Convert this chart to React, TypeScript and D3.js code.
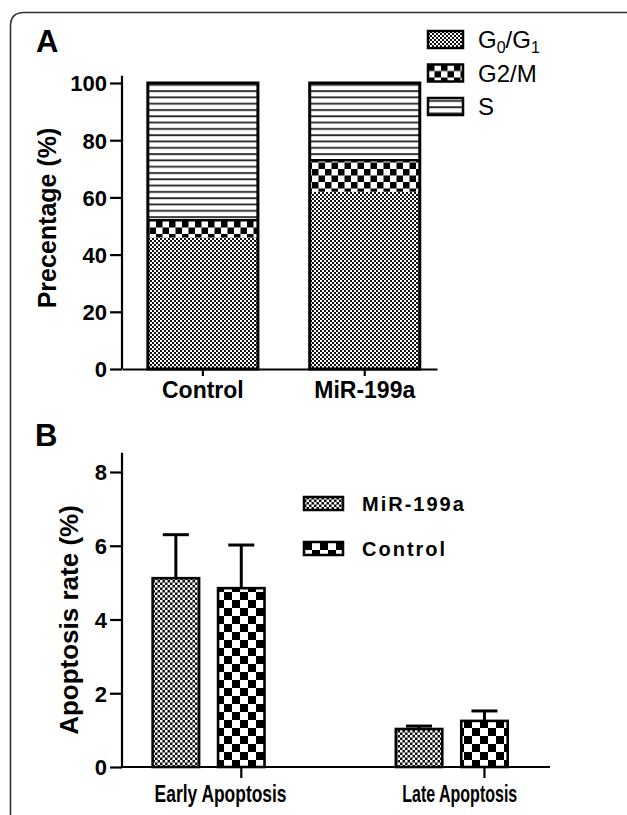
import React, { useEffect, useRef } from 'react';
import * as d3 from 'd3';

// panel A - cell cycle distribution (%)
const cycleGroups = ['Control', 'MiR-199a'];
const phaseNames = ['G0/G1', 'G2/M', 'S'];
const g0g1 = [46, 62];
const g2m = [6, 11];
const sPhase = [48, 27];
const cycleTicks = [0, 20, 40, 60, 80, 100];

// panel B - apoptosis rate (%)
const apoTypes = ['Early Apoptosis', 'Late Apoptosis'];
const apoSeries = ['MiR-199a', 'Control'];
const apoMir = [5.12, 1.03];
const apoMirErr = [1.18, 0.08];
const apoCtrl = [4.85, 1.25];
const apoCtrlErr = [1.17, 0.27];
const apoTicks = [0, 2, 4, 6, 8];

const FONT = '"Liberation Sans", Arial, sans-serif';
const NARROW = '"Liberation Sans Narrow", "Arial Narrow", "Liberation Sans", sans-serif';

export default function App() {
    const ref = useRef<SVGSVGElement>(null);

    useEffect(() => {
        const svg = d3.select(ref.current);
        svg.selectAll('*').remove();

        //patterns
        const defs = svg.append('defs');
        const fine = defs.append('pattern').attr('id', 'fine').attr('patternUnits', 'userSpaceOnUse')
            .attr('width', 4).attr('height', 4);
        fine.append('rect').attr('width', 4).attr('height', 4).attr('fill', '#111');
        fine.append('rect').attr('width', 2).attr('height', 2).attr('fill', '#fff');
        fine.append('rect').attr('x', 2).attr('y', 2).attr('width', 2).attr('height', 2).attr('fill', '#fff');

        const fineB = defs.append('pattern').attr('id', 'fineB').attr('patternUnits', 'userSpaceOnUse')
            .attr('width', 5).attr('height', 5);
        fineB.append('rect').attr('width', 5).attr('height', 5).attr('fill', '#111');
        fineB.append('rect').attr('width', 2.5).attr('height', 2.5).attr('fill', '#fff');
        fineB.append('rect').attr('x', 2.5).attr('y', 2.5).attr('width', 2.5).attr('height', 2.5).attr('fill', '#fff');

        const checker = (id, s) => {
            const p = defs.append('pattern').attr('id', id).attr('patternUnits', 'userSpaceOnUse')
                .attr('width', s * 2).attr('height', s * 2);
            p.append('rect').attr('width', s * 2).attr('height', s * 2).attr('fill', '#fff');
            p.append('rect').attr('width', s).attr('height', s).attr('fill', '#000');
            p.append('rect').attr('x', s).attr('y', s).attr('width', s).attr('height', s).attr('fill', '#000');
        };
        checker('checkA', 6.5);
        checker('checkB', 8);

        const lines = defs.append('pattern').attr('id', 'lines').attr('patternUnits', 'userSpaceOnUse')
            .attr('width', 8).attr('height', 6.3);
        lines.append('rect').attr('width', 8).attr('height', 6.3).attr('fill', '#fff');
        lines.append('rect').attr('y', 2).attr('width', 8).attr('height', 1.8).attr('fill', '#222');

        const fills = { 'G0/G1': 'url(#fine)', 'G2/M': 'url(#checkA)', 'S': 'url(#lines)' };

        //frame
        svg.append('path')
            .attr('d', 'M10.5,815 L10.5,26 Q10.5,12.5 24,12.5 L627,12.5')
            .attr('fill', 'none').attr('stroke', '#333').attr('stroke-width', 1.6);

        //******** PANEL A ********/
        const gA = svg.append('g');
        gA.append('text').attr('x', 36).attr('y', 52).text('A')
            .attr('font-family', FONT).attr('font-weight', 'bold').attr('font-size', 31);

        const yA = d3.scaleLinear().domain([0, 100]).range([369, 83]);
        const xA = d3.scaleBand().domain(cycleGroups).range([122, 437])
            .paddingInner(0.32).paddingOuter(0.133).align(0.6);

        const stacked = d3.stack().keys(phaseNames)(cycleGroups.map((c, i) => ({
            group: c, 'G0/G1': g0g1[i], 'G2/M': g2m[i], 'S': sPhase[i]
        })));

        stacked.forEach(layer => {
            gA.append('g').selectAll('rect').data(layer).enter().append('rect')
                .attr('x', d => xA(d.data.group))
                .attr('y', d => yA(d[1]))
                .attr('width', xA.bandwidth())
                .attr('height', d => yA(d[0]) - yA(d[1]))
                .attr('fill', fills[layer.key]);
        });
        // outline for whole bar + separation line above G2/M
        gA.append('g').selectAll('rect').data(cycleGroups).enter().append('rect')
            .attr('x', d => xA(d))
            .attr('y', yA(100))
            .attr('width', xA.bandwidth())
            .attr('height', yA(0) - yA(100))
            .attr('fill', 'none').attr('stroke', '#000').attr('stroke-width', 3);
        gA.append('g').selectAll('line').data(cycleGroups).enter().append('line')
            .attr('x1', d => xA(d)).attr('x2', d => xA(d) + xA.bandwidth())
            .attr('y1', (d, i) => yA(g0g1[i] + g2m[i])).attr('y2', (d, i) => yA(g0g1[i] + g2m[i]))
            .attr('stroke', '#000').attr('stroke-width', 2.5);

        const yAxisA = gA.append('g').attr('transform', 'translate(122,0)')
            .call(d3.axisLeft(yA).tickValues(cycleTicks).tickSize(12).tickPadding(3));
        yAxisA.select('.domain').remove();
        yAxisA.append('line').attr('y1', yA(0)).attr('y2', yA(102.5)).attr('stroke', '#000').attr('stroke-width', 2.2);

        const xAxisA = gA.append('g').attr('transform', 'translate(0,369)')
            .call(d3.axisBottom(xA).tickSize(7).tickSizeOuter(0).tickPadding(6));

        [yAxisA, xAxisA].forEach(a => {
            a.selectAll('line').attr('stroke', '#000').attr('stroke-width', 2.2);
            a.selectAll('path').attr('stroke', '#000').attr('stroke-width', 2.2);
            a.selectAll('text').attr('font-family', FONT).attr('font-weight', 'bold').attr('fill', '#000');
        });
        yAxisA.selectAll('.tick text').attr('font-size', 22).attr('dy', '0.36em');
        xAxisA.selectAll('.tick text').attr('font-size', 23);

        gA.append('text')
            .attr('transform', 'translate(56,218) rotate(-90)')
            .attr('text-anchor', 'middle')
            .attr('font-family', FONT).attr('font-weight', 'bold').attr('font-size', 25)
            .text('Precentage (%)');

        //legend A
        const legA = gA.append('g').selectAll('g').data(phaseNames).enter().append('g')
            .attr('transform', (d, i) => `translate(428,${31 + i * 33.5})`);
        legA.append('rect').attr('width', 35).attr('height', 17)
            .attr('fill', d => fills[d]).attr('stroke', '#000').attr('stroke-width', 2.5);
        const legTxt = legA.append('text').attr('x', 50).attr('y', 17)
            .attr('font-family', FONT).attr('font-size', 24);
        legTxt.each(function (d) {
            const t = d3.select(this);
            if (d === 'G0/G1') {
                t.append('tspan').text('G');
                t.append('tspan').attr('font-size', 16).attr('dy', 5).text('0');
                t.append('tspan').attr('dy', -5).text('/G');
                t.append('tspan').attr('font-size', 16).attr('dy', 5).text('1');
            } else {
                t.text(d);
            }
        });

        //******** PANEL B ********/
        const gB = svg.append('g');
        gB.append('text').attr('x', 35).attr('y', 446).text('B')
            .attr('font-family', FONT).attr('font-weight', 'bold').attr('font-size', 31);

        const yB = d3.scaleLinear().domain([0, 8]).range([767, 472]);
        const xB = d3.scaleBand().domain(apoTypes).range([122, 550])
            .paddingInner(0.54).paddingOuter(0.15).align(0.42);
        const xSub = d3.scaleBand().domain(apoSeries).range([0, xB.bandwidth()]).paddingInner(0.29);

        const apoData = apoTypes.flatMap((t, i) => [
            { type: t, series: 'MiR-199a', value: apoMir[i], err: apoMirErr[i] },
            { type: t, series: 'Control', value: apoCtrl[i], err: apoCtrlErr[i] }
        ]);
        const apoFill = { 'MiR-199a': 'url(#fineB)', 'Control': 'url(#checkB)' };
        const bx = d => xB(d.type) + xSub(d.series);

        //error bars
        const errs = gB.append('g').selectAll('g').data(apoData).enter().append('g');
        errs.append('line')
            .attr('x1', d => bx(d) + xSub.bandwidth() / 2).attr('x2', d => bx(d) + xSub.bandwidth() / 2)
            .attr('y1', d => yB(d.value)).attr('y2', d => yB(d.value + d.err))
            .attr('stroke', '#000').attr('stroke-width', 3);
        errs.append('line')
            .attr('x1', d => bx(d) + xSub.bandwidth() / 2 - 13).attr('x2', d => bx(d) + xSub.bandwidth() / 2 + 13)
            .attr('y1', d => yB(d.value + d.err)).attr('y2', d => yB(d.value + d.err))
            .attr('stroke', '#000').attr('stroke-width', 3);

        gB.append('g').selectAll('rect').data(apoData).enter().append('rect')
            .attr('x', d => bx(d))
            .attr('y', d => yB(d.value))
            .attr('width', xSub.bandwidth())
            .attr('height', d => yB(0) - yB(d.value))
            .attr('fill', d => apoFill[d.series])
            .attr('stroke', '#000').attr('stroke-width', 2.6);

        const yAxisB = gB.append('g').attr('transform', 'translate(122,0)')
            .call(d3.axisLeft(yB).tickValues(apoTicks).tickSize(12).tickPadding(3));
        yAxisB.select('.domain').remove();
        yAxisB.append('line').attr('y1', yB(0)).attr('y2', yB(8.52)).attr('stroke', '#000').attr('stroke-width', 2.2);

        // baseline + ticks (tick sits under the second bar of each group)
        gB.append('line').attr('x1', 122).attr('x2', xB.range()[1]).attr('y1', 767).attr('y2', 767)
            .attr('stroke', '#000').attr('stroke-width', 2.2);
        const catB = gB.append('g').selectAll('g').data(apoTypes).enter().append('g');
        catB.append('line')
            .attr('x1', d => xB(d) + xSub('Control') + xSub.bandwidth() / 2)
            .attr('x2', d => xB(d) + xSub('Control') + xSub.bandwidth() / 2)
            .attr('y1', 767).attr('y2', 778)
            .attr('stroke', '#000').attr('stroke-width', 2.2);
        // condensed bold labels
        catB.append('text')
            .attr('x', (d, i) => xB(d) + xB.bandwidth() / 2 + (i === 0 ? 12 : 8))
            .attr('y', 802)
            .attr('text-anchor', 'middle')
            .attr('font-family', NARROW).attr('font-weight', 'bold').attr('font-size', 24)
            .attr('textLength', (d, i) => (i === 0 ? 132 : 115))
            .attr('lengthAdjust', 'spacingAndGlyphs')
            .text(d => d);

        yAxisB.selectAll('line').attr('stroke', '#000').attr('stroke-width', 2.2);
        yAxisB.selectAll('text').attr('font-family', FONT).attr('font-weight', 'bold')
            .attr('font-size', 22).attr('dy', '0.36em').attr('fill', '#000');

        gB.append('text')
            .attr('transform', 'translate(78,620) rotate(-90)')
            .attr('text-anchor', 'middle')
            .attr('font-family', FONT).attr('font-weight', 'bold').attr('font-size', 26)
            .text('Apoptosis rate (%)');

        //legend B
        const legB = gB.append('g').selectAll('g').data(apoSeries).enter().append('g')
            .attr('transform', (d, i) => `translate(304,${497 + i * 45})`);
        legB.append('rect').attr('width', 39).attr('height', 13)
            .attr('fill', d => apoFill[d]).attr('stroke', '#000').attr('stroke-width', 2.5);
        legB.append('text').attr('x', 58).attr('y', 14)
            .attr('font-family', FONT).attr('font-weight', 'bold').attr('font-size', 20)
            .attr('letter-spacing', 2)
            .text(d => d);
    }, []);

    return (
        <svg ref={ref} width={627} height={815}
            style={{ position: 'absolute', left: 0, top: 0, background: '#fff' }} />
    );
}
